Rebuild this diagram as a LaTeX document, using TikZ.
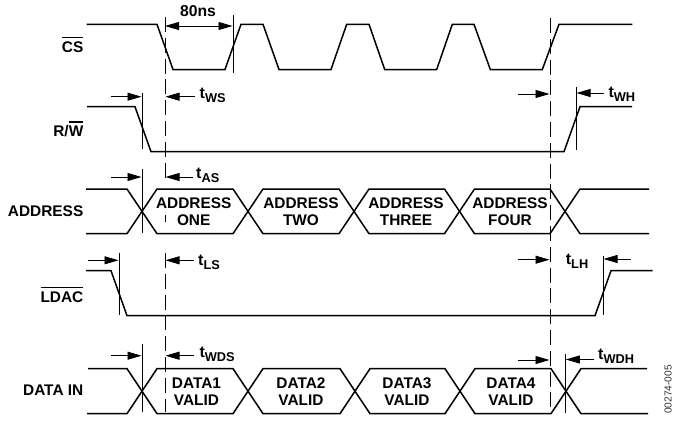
\documentclass[tikz,border=0pt]{standalone}
\usepackage{fontspec}
\setmainfont{Liberation Sans}
\usetikzlibrary{arrows.meta}
\tikzset{
  x=1pt,y=-1pt,
  wave/.style={line width=1.5pt,line join=miter},
  guide/.style={line width=0.8pt},
  dashguide/.style={line width=0.9pt,dash pattern=on 15pt off 5.8pt},
  dim/.style={line width=0.8pt,-{Triangle[length=14pt,width=8pt]}},
  dimboth/.style={line width=0.8pt,{Triangle[length=14pt,width=8pt]}-{Triangle[length=14pt,width=8pt]}},
  sig/.style={font=\bfseries\fontsize{15.4}{15.4}\selectfont,inner sep=0pt,anchor=base east},
  lab/.style={font=\bfseries\fontsize{15.4}{16.8}\selectfont,inner sep=0pt,align=center},
  tim/.style={font=\bfseries\fontsize{16}{16}\selectfont,inner sep=0pt,anchor=base west},
}
\newcommand{\tsub}[1]{t\raisebox{-4.4pt}{\fontsize{12.8}{12.8}\selectfont #1}}
\newcommand{\barred}[1]{\vbox{\hrule height 1.1pt\kern 3.6pt\hbox{#1}}}
\begin{document}
\begin{tikzpicture}
\useasboundingbox (0,0) rectangle (675,421);
% signal names
\node[sig] (ncs) at (83.5,52.3) {\barred{CS}};
\node[sig] (nrw) at (83.5,136.7) {R/\barred{W}};
\node[sig] (nad) at (83.5,216.5) {ADDRESS};
\node[sig] (nld) at (83.5,302.7) {\barred{LDAC}};
\node[sig] (ndi) at (83.5,395) {DATA IN};
% waveforms
\draw[wave] (86.5,24.3) -- (157,24.3) -- (173,69.5) -- (225,69.5) -- (241,24.3) -- (263,24.3) -- (279,69.5) -- (331,69.5) -- (346.7,24.3) -- (369,24.3) -- (384.7,69.5) -- (436.7,69.5) -- (452.3,24.3) -- (474,24.3) -- (490.3,69.5) -- (542.3,69.5) -- (559,24.3) -- (632.3,24.3);
\draw[wave] (87,106.7) -- (135,106.7) -- (151,151.7) -- (564,151.7) -- (580,106.7) -- (632,106.7);
\draw[wave] (86,270.7) -- (111,270.7) -- (127,315.7) -- (595,315.7) -- (611,270.7) -- (652.7,270.7);
% address bus
\draw[wave] (86,189) -- (127,189) -- (157,233.7) -- (233,233.7) -- (263,189) -- (339,189) -- (369,233.7) -- (444.5,233.7) -- (474.5,189) -- (550,189) -- (580,233.7) -- (649,233.7);
\draw[wave] (86,233.7) -- (127,233.7) -- (157,189) -- (233,189) -- (263,233.7) -- (339,233.7) -- (369,189) -- (444.5,189) -- (474.5,233.7) -- (550,233.7) -- (580,189) -- (649,189);
% data bus
\draw[wave] (88,368.7) -- (127,368.7) -- (157,413.7) -- (233,413.7) -- (263,368.7) -- (340,368.7) -- (370,413.7) -- (445,413.7) -- (475,368.7) -- (551,368.7) -- (581,413.7) -- (648,413.7);
\draw[wave] (87,413.7) -- (127,413.7) -- (157,368.7) -- (233,368.7) -- (263,413.7) -- (340,413.7) -- (370,368.7) -- (445,368.7) -- (475,413.7) -- (551,413.7) -- (581,368.7) -- (647,368.7);
% dashed guides
\coordinate (dlt) at (165,17); \coordinate (dlm) at (165,178);
\coordinate (dla) at (165,215); \coordinate (dlc) at (165,222);
\coordinate (dln) at (165,253); \coordinate (dlb) at (165,412);
\coordinate (drt) at (550,18); \coordinate (drb) at (550,413);
\draw[dashguide] (dlt) -- (dlm);
\draw[guide] (dla) -- (dlc);
\draw[dashguide] (dln) -- (dlb);
\draw[dashguide] (drt) -- (drb);
% solid guides
\draw[guide] (233,15) -- (233,73);
\draw[guide] (142,92.7) -- (142,149);
\draw[guide] (576,86.7) -- (576,150);
\draw[guide] (142,169) -- (142,232.7);
\draw[guide] (119,252.7) -- (119,315.3);
\draw[guide] (603,256) -- (603,315);
\draw[guide] (142,344) -- (142,412);
\draw[guide] (565.3,354.3) -- (565.3,413);
% dimension arrows
\coordinate (a0l) at (165,26); \coordinate (a0r) at (232.5,26);
\draw[dimboth] (a0l) -- (a0r);
\node[inner sep=0pt,anchor=base,font=\bfseries\fontsize{15.7}{15.7}\selectfont] (l80) at (198,16.7) {80ns};
\draw[dim] (111,96.7) -- (141.5,96.7);
\draw[dim] (195,96.7) -- (165.5,96.7);
\node[tim] (lws) at (199.5,98.5) {\tsub{WS}};
\draw[dim] (518,94) -- (549.5,94);
\draw[dim] (604,93) -- (576.5,93);
\node[tim] (lwh) at (608.3,97.3) {\tsub{WH}};
\draw[dim] (111,177) -- (141.5,177);
\draw[dim] (192.7,177) -- (165.5,177);
\node[tim] (las) at (196,178) {\tsub{AS}};
\draw[dim] (88.3,260.3) -- (118.5,260.3);
\draw[dim] (194,260.3) -- (165.5,260.3);
\node[tim] (lls) at (198,265) {\tsub{LS}};
\draw[dim] (518,259.7) -- (549.5,259.7);
\node[tim] (llh) at (565.7,264.3) {\tsub{LH}};
\draw[dim] (630.7,259) -- (603.5,259);
\draw[dim] (111,355.7) -- (141.5,355.7);
\draw[dim] (194,355.7) -- (165.5,355.7);
\node[tim] (lwds) at (199.3,357.3) {\tsub{WDS}};
\draw[dim] (518,360) -- (549.5,360);
\draw[dim] (594,359.5) -- (565.8,359.5);
\node[tim] (lwdh) at (598,359) {\tsub{WDH}};
% bus labels
\node[lab] (a1) at (193.7,211.3) {ADDRESS\\ONE};
\node[lab] (a2) at (301,211.3) {ADDRESS\\TWO};
\node[lab] (a3) at (406,211.3) {ADDRESS\\THREE};
\node[lab] (a4) at (510,211.3) {ADDRESS\\FOUR};
\node[lab] (d1) at (196.5,391.5) {DATA1\\VALID};
\node[lab] (d2) at (301,391.5) {DATA2\\VALID};
\node[lab] (d3) at (407,391.5) {DATA3\\VALID};
\node[lab] (d4) at (511,391.5) {DATA4\\VALID};
\node[rotate=90,inner sep=0pt,font=\fontsize{10.2}{10.2}\selectfont,text=black!80] (code) at (668,389.5) {00274-005};
\end{tikzpicture}
\end{document}
